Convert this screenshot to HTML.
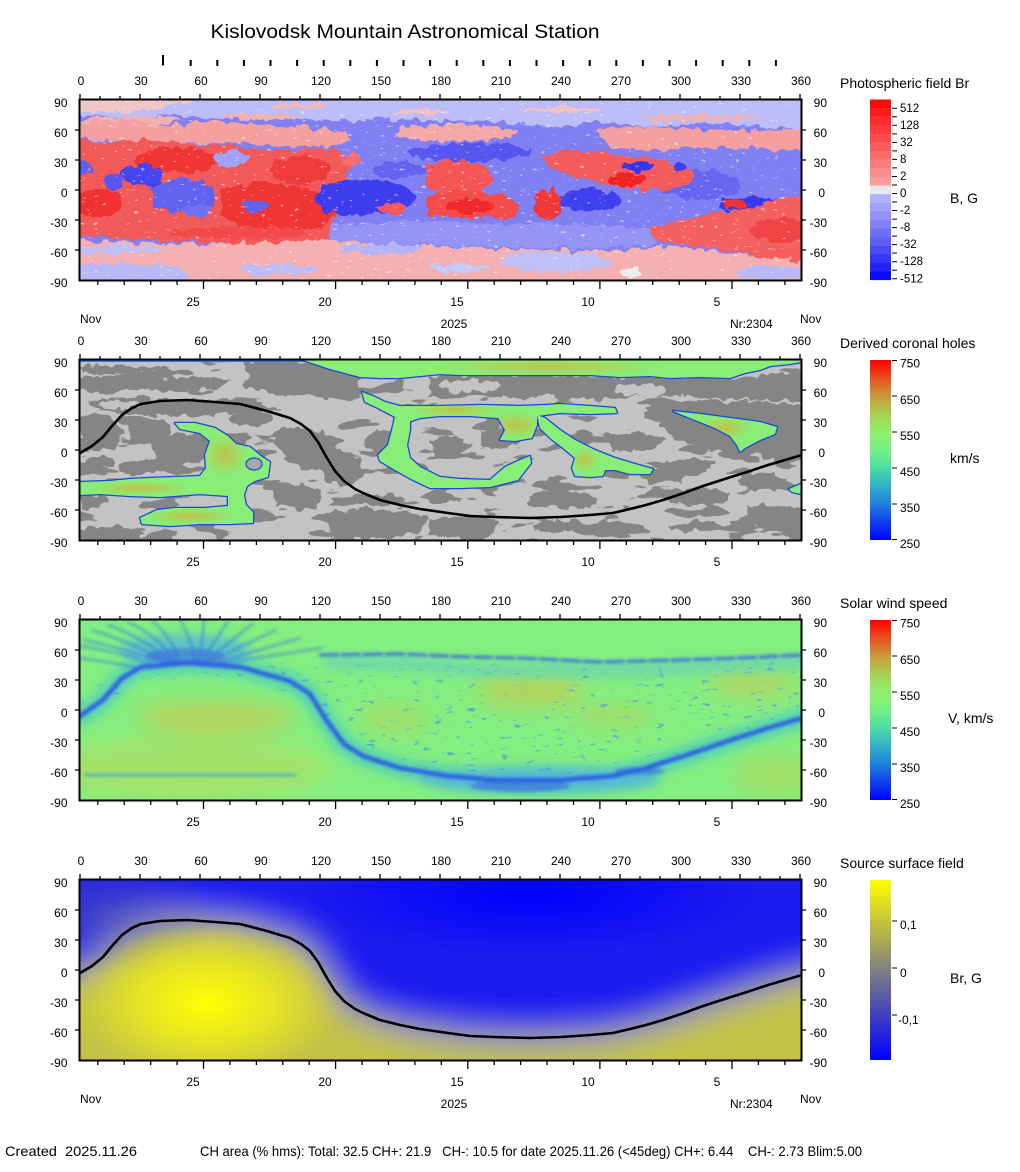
<!DOCTYPE html>
<html><head><meta charset="utf-8"><style>
html,body{margin:0;padding:0;background:#fff;width:1020px;height:1172px;overflow:hidden}
svg{display:block}
text{font-family:"Liberation Sans",Arial,sans-serif;fill:#000}
</style></head><body>
<svg width="1020" height="1172" viewBox="0 0 1020 1172" xmlns="http://www.w3.org/2000/svg">
<defs>
<filter id="rag" filterUnits="userSpaceOnUse" x="0" y="0" width="1020" height="1172">
<feTurbulence type="fractalNoise" baseFrequency="0.1" numOctaves="2" seed="7" result="n"/>
<feDisplacementMap in="SourceGraphic" in2="n" scale="11" xChannelSelector="R" yChannelSelector="G"/>
</filter>
<filter id="tex2" color-interpolation-filters="sRGB" filterUnits="userSpaceOnUse" x="80" y="360" width="721" height="180">
<feTurbulence type="fractalNoise" baseFrequency="0.022 0.065" numOctaves="3" seed="11"/>
<feColorMatrix type="matrix" values="0 0 0 0 0.52 0 0 0 0 0.52 0 0 0 0 0.52 1 0 0 0 0"/>
<feComponentTransfer><feFuncA type="linear" slope="40" intercept="-23.4"/></feComponentTransfer>
</filter>
<filter id="spk1" color-interpolation-filters="sRGB" filterUnits="userSpaceOnUse" x="80" y="100" width="721" height="180">
<feTurbulence type="fractalNoise" baseFrequency="0.15 0.35" numOctaves="2" seed="21"/>
<feColorMatrix type="matrix" values="0 0 0 0 0.96 0 0 0 0 0.96 0 0 0 0 0.96 1 0 0 0 0"/>
<feComponentTransfer><feFuncA type="linear" slope="12" intercept="-8.4"/></feComponentTransfer>
</filter>
<filter id="spk3" color-interpolation-filters="sRGB" filterUnits="userSpaceOnUse" x="80" y="620" width="721" height="180">
<feTurbulence type="fractalNoise" baseFrequency="0.09 0.25" numOctaves="2" seed="4"/>
<feColorMatrix type="matrix" values="0 0 0 0 0.3 0 0 0 0 0.6 0 0 0 0 0.88 1 0 0 0 0"/>
<feComponentTransfer><feFuncA type="linear" slope="8" intercept="-5.3"/></feComponentTransfer>
</filter>
<filter id="bl2" filterUnits="userSpaceOnUse" x="0" y="0" width="1020" height="1172"><feGaussianBlur stdDeviation="1.6"/></filter>
<filter id="bl5" filterUnits="userSpaceOnUse" x="0" y="0" width="1020" height="1172"><feGaussianBlur stdDeviation="5"/></filter>
<filter id="bl10" filterUnits="userSpaceOnUse" x="0" y="0" width="1020" height="1172"><feGaussianBlur stdDeviation="10"/></filter>
<filter id="bl18" filterUnits="userSpaceOnUse" x="0" y="820" width="1020" height="300"><feGaussianBlur stdDeviation="17"/></filter>
<clipPath id="c1"><rect x="80" y="100" width="721" height="180"/></clipPath>
<clipPath id="c2"><rect x="80" y="360" width="721" height="180"/></clipPath>
<clipPath id="c3"><rect x="80" y="620" width="721" height="180"/></clipPath>
<clipPath id="c4"><rect x="80" y="880" width="721" height="180"/></clipPath>
<linearGradient id="cb2" x1="0" y1="0" x2="0" y2="1">
<stop offset="0" stop-color="#ff0000"/><stop offset="0.1" stop-color="#e8501e"/><stop offset="0.2" stop-color="#c99a3c"/><stop offset="0.3" stop-color="#a8d050"/><stop offset="0.4" stop-color="#8ef06c"/><stop offset="0.5" stop-color="#74f084"/><stop offset="0.6" stop-color="#4cdca4"/><stop offset="0.7" stop-color="#30b0c8"/><stop offset="0.8" stop-color="#1e80dc"/><stop offset="0.9" stop-color="#0e40ee"/><stop offset="1" stop-color="#0000ff"/>
</linearGradient>
<linearGradient id="cb4" x1="0" y1="0" x2="0" y2="1"><stop offset="0" stop-color="#ffff00"/><stop offset="0.5" stop-color="#808080"/><stop offset="1" stop-color="#0000ff"/></linearGradient>
<radialGradient id="ys"><stop offset="0" stop-color="#ffff00" stop-opacity="1"/><stop offset="0.5" stop-color="#f2f018" stop-opacity="0.75"/><stop offset="1" stop-color="#e8e820" stop-opacity="0"/></radialGradient>
<radialGradient id="bs"><stop offset="0" stop-color="#0000ff" stop-opacity="1"/><stop offset="0.6" stop-color="#0808f8" stop-opacity="0.6"/><stop offset="1" stop-color="#0808f8" stop-opacity="0"/></radialGradient>
<radialGradient id="gl"><stop offset="0" stop-color="#6060a8" stop-opacity="0.55"/><stop offset="1" stop-color="#6060a8" stop-opacity="0"/></radialGradient>
<radialGradient id="och"><stop offset="0" stop-color="#c4c048" stop-opacity="0.95"/><stop offset="1" stop-color="#c4c048" stop-opacity="0"/></radialGradient>
<polyline id="nl" points="80,93 92,86 103,77 112,66 122,55 132,48 141,44 160,41 187,40 215,42 240,44 267,51 290,58 301,64 310,71 318,82 327,98 335,111 344,121 355,129 363,133 380,140 400,145 420,149 448,153 470,156 495,157 530,158 561,157 590,155 613,153 630,149 646,145 663,140 684,133 703,126 731,117 747,112 768,105 785,100 802,95"/>
<polygon id="np" points="40,95 80,93 92,86 103,77 112,66 122,55 132,48 141,44 160,41 187,40 215,42 240,44 267,51 290,58 301,64 310,71 318,82 327,98 335,111 344,121 355,129 363,133 380,140 400,145 420,149 448,153 470,156 495,157 530,158 561,157 590,155 613,153 630,149 646,145 663,140 684,133 703,126 731,117 747,112 768,105 785,100 802,95 840,88 840,-40 40,-40"/>
<g id="chs">
<polygon points="300,359 801,359 801,362 790,364 770,366 760,370 745,373 730,378 700,377 670,378 650,376 620,377 590,375 560,375 500,375 460,375 440,374 420,376 400,378 380,378 360,377 345,373 330,369 315,364 306,361"/>
<polygon points="80,482 110,481 130,479 150,478 175,477 200,476 206,468 205,455 210,441 200,433 180,429 175,423 195,423 215,428 228,436 236,444 250,447 256,452 262,457 270,462 268,477 255,481 247,486 244,495 246,505 253,512 253,523 230,524 200,524 170,526 142,524 140,518 157,510 175,508 205,508 228,506 228,496 200,494 160,497 130,496 100,494 80,495"/>
<polygon points="362,392 375,397 385,402 400,406 440,406 480,405 520,406 545,405 560,404 590,406 615,408 617,413 590,414 560,413 537,416 520,416 497,418 470,416 440,416 420,418 408,422 395,417 378,408 365,402"/>
<polygon points="395,417 410,420 410,430 407,445 410,458 420,467 440,477 460,479 490,480 505,467 520,460 530,456 531,463 518,480 490,487 460,488 430,488 413,480 395,470 380,461 378,455 388,445 392,430"/>
<polygon points="497,416 537,415 537,425 532,438 515,441 500,440 505,430"/>
<polygon points="537,415 545,418 560,430 575,440 595,450 615,458 635,464 653,469 650,474 630,474 615,470 605,470 603,476 590,477 575,476 572,468 575,458 563,448 550,438 540,428"/>
<polygon points="673,411 700,414 730,418 760,422 777,427 775,434 760,440 745,448 740,452 737,445 730,436 715,428 695,420 680,414"/>
<polygon points="789,489 801,484 801,494 792,492"/>
</g>
<mask id="chm" maskUnits="userSpaceOnUse" x="0" y="0" width="1020" height="1172"><use href="#chs" fill="#fff"/></mask>
<mask id="m3" maskUnits="userSpaceOnUse" x="0" y="0" width="1020" height="1172">
<g filter="url(#bl5)">
<polygon fill="#fff" points="300,665 400,662 480,668 560,668 640,668 720,664 801,660 801,722 768,732 731,744 684,760 646,772 613,780 561,784 495,784 448,780 400,772 363,760 344,748 327,725 310,700"/>
<polygon fill="#fff" points="80,700 120,668 160,652 240,652 300,668 322,700 300,702 260,682 200,676 150,682 110,705 80,728"/>
<ellipse cx="530" cy="690" rx="45" ry="14" fill="#000"/>
<ellipse cx="612" cy="716" rx="35" ry="8" fill="#000"/>
<ellipse cx="752" cy="683" rx="40" ry="11" fill="#000"/>
<ellipse cx="395" cy="718" rx="28" ry="10" fill="#000"/>
</g>
</mask>
<path id="tt" d="M80,0v-5M100,0v-3M120,0v-3M140,0v-5M160,0v-3M180,0v-3M200,0v-5M220,0v-3M240,0v-3M260,0v-5M280,0v-3M300,0v-3M320,0v-5M340,0v-3M360,0v-3M380,0v-5M400,0v-3M420,0v-3M440,0v-5M460,0v-3M480,0v-3M500,0v-5M520,0v-3M540,0v-3M560,0v-5M580,0v-3M600,0v-3M620,0v-5M640,0v-3M660,0v-3M680,0v-5M700,0v-3M720,0v-3M740,0v-5M760,0v-3M780,0v-3M800,0v-5"/>
<path id="bt" d="M97.8,0v4M124.2,0v4M150.7,0v4M177.1,0v4M203.5,0v8M229.9,0v4M256.4,0v4M282.8,0v4M309.2,0v4M335.6,0v8M362.1,0v4M388.5,0v4M414.9,0v4M441.3,0v4M467.8,0v8M494.2,0v4M520.6,0v4M547,0v4M573.5,0v4M599.9,0v8M626.3,0v4M652.7,0v4M679.2,0v4M705.6,0v4M732,0v8M758.4,0v4M784.9,0v4"/>
<path id="st" d="M75,30h4M75,60h4M75,90h4M75,120h4M75,150h4M802,30h4M802,60h4M802,90h4M802,120h4M802,150h4"/>
</defs>
<rect width="1020" height="1172" fill="#fff"/>

<!-- Title -->
<text x="405" y="38" font-size="19" text-anchor="middle" textLength="389" lengthAdjust="spacingAndGlyphs">Kislovodsk Mountain Astronomical Station</text>
<g stroke="#000" stroke-width="2">
<line x1="163" y1="55" x2="163" y2="65.5"/>
<path d="M190.7,60v6M217.3,60v6M243.9,60v6M270.5,60v6M297.1,60v6M323.7,60v6M350.3,60v6M376.9,60v6M403.5,60v6M430.1,60v6M456.7,60v6M483.3,60v6M509.9,60v6M536.5,60v6M563.1,60v6M589.7,60v6M616.3,60v6M642.9,60v6M669.5,60v6M696.1,60v6M722.7,60v6M749.3,60v6M775.9,60v6"/>
</g>

<!-- PANEL 1 -->
<g clip-path="url(#c1)">
<g filter="url(#rag)">
<rect x="60" y="85" width="760" height="210" fill="#8080f2"/>
<path fill="#bcbcf8" d="M60,85 H820 V130 L760,127 700,123 640,126 600,122 560,127 500,122 440,121 380,119 330,121 280,117 230,119 180,115 130,117 60,113 Z"/>
<path fill="#f2c6c6" d="M60,85 H200 L192,100 175,106 150,110 120,112 90,111 60,110 Z"/>
<ellipse cx="130" cy="120" rx="50" ry="4" fill="#f2b0b0"/>
<ellipse cx="260" cy="117" rx="40" ry="3" fill="#f2b0b0"/>
<ellipse cx="300" cy="106" rx="30" ry="3" fill="#f2b8b8"/>
<ellipse cx="700" cy="118" rx="60" ry="3" fill="#f2b0b0"/>
<ellipse cx="560" cy="110" rx="40" ry="2.5" fill="#f2c0c0"/>
<ellipse cx="420" cy="112" rx="30" ry="2.5" fill="#f2c0c0"/>
<path fill="#f4a0a0" d="M60,124 L120,119 170,125 220,121 270,125 320,129 345,133 352,141 330,147 290,146 240,144 180,143 120,141 60,139 Z"/>
<ellipse cx="455" cy="133" rx="62" ry="8" fill="#f4a8a8"/>
<path fill="#f4a0a0" d="M595,129 L650,126 700,129 760,131 820,128 V152 L760,149 700,147 650,151 610,146 Z"/>
<path fill="#f25a5a" d="M60,140 L110,142 150,140 190,144 230,146 260,150 290,150 320,148 345,152 352,165 345,180 350,195 340,210 330,222 345,232 325,240 290,242 250,244 200,242 150,240 110,238 60,236 Z"/>
<ellipse cx="178" cy="160" rx="42" ry="13" fill="#f03434"/>
<ellipse cx="98" cy="203" rx="25" ry="14" fill="#f03030"/>
<path fill="#f03434" d="M220,190 L260,182 300,186 332,196 334,215 320,228 280,232 240,228 222,215 Z"/>
<ellipse cx="300" cy="170" rx="30" ry="14" fill="#f03a3a"/>
<ellipse cx="240" cy="233" rx="70" ry="6" fill="#f24a4a"/>
<ellipse cx="84" cy="168" rx="8" ry="6" fill="#6060f0"/>
<ellipse cx="142" cy="175" rx="22" ry="11" fill="#4444f0"/>
<path fill="#6262f0" d="M150,186 L175,178 200,180 216,190 212,205 195,214 170,212 155,205 Z"/>
<ellipse cx="113" cy="182" rx="9" ry="8" fill="#5858f0"/>
<ellipse cx="196" cy="211" rx="16" ry="6" fill="#7070f0"/>
<ellipse cx="256" cy="206" rx="14" ry="6" fill="#6464f0"/>
<ellipse cx="230" cy="158" rx="18" ry="8" fill="#a0a0f4"/>
<ellipse cx="365" cy="198" rx="50" ry="18" fill="#3c3cee"/>
<ellipse cx="470" cy="152" rx="62" ry="9" fill="#5656f0"/>
<ellipse cx="590" cy="200" rx="32" ry="11" fill="#4040ee"/>
<ellipse cx="700" cy="185" rx="40" ry="15" fill="#6666f0"/>
<ellipse cx="400" cy="170" rx="25" ry="8" fill="#6464f0"/>
<path fill="#f45454" d="M425,165 L450,159 485,164 493,180 480,193 450,195 427,188 Z"/>
<path fill="#f44c4c" d="M425,195 L460,191 500,195 521,205 511,218 470,219 430,215 Z"/>
<ellipse cx="470" cy="206" rx="25" ry="7" fill="#f02c2c"/>
<ellipse cx="390" cy="208" rx="14" ry="6" fill="#f45858"/>
<ellipse cx="548" cy="205" rx="14" ry="15" fill="#f03838"/>
<ellipse cx="352" cy="160" rx="10" ry="5" fill="#f47070"/>
<path fill="#f45c5c" d="M540,155 L570,150 600,152 630,157 660,160 690,168 693,182 670,190 640,189 615,187 590,180 570,175 550,168 Z"/>
<ellipse cx="628" cy="180" rx="20" ry="7" fill="#f02424"/>
<ellipse cx="638" cy="166" rx="18" ry="5" fill="#3636f0"/>
<ellipse cx="680" cy="167" rx="8" ry="4" fill="#4040f0"/>
<ellipse cx="752" cy="205" rx="36" ry="8" fill="#3838f0"/>
<path fill="#f46060" d="M650,226 L700,216 740,210 770,201 820,190 V264 L760,258 720,250 680,244 650,240 640,232 Z"/>
<ellipse cx="780" cy="230" rx="30" ry="12" fill="#f04444"/>
<ellipse cx="735" cy="204" rx="11" ry="5" fill="#f03030"/>
<path fill="#9494f4" d="M330,226 L400,221 500,223 600,225 650,229 655,245 600,249 500,247 400,245 330,243 Z"/>
<path fill="#f4b0b0" d="M60,240 L200,244 330,240 420,247 520,249 600,251 680,246 760,258 820,262 V295 H60 Z"/>
<path fill="#b8b8f8" d="M70,266 L120,262 160,264 186,270 190,290 70,290 Z"/>
<ellipse cx="280" cy="270" rx="38" ry="6" fill="#bcbcf8"/>
<ellipse cx="555" cy="262" rx="55" ry="10" fill="#c0c0f6"/>
<ellipse cx="772" cy="273" rx="35" ry="7" fill="#b8b8f8"/>
<ellipse cx="630" cy="273" rx="10" ry="5" fill="#eeeeee"/>
<ellipse cx="380" cy="249" rx="40" ry="5" fill="#b4b4f6"/>
<ellipse cx="120" cy="250" rx="45" ry="4" fill="#c0c0f6"/>
<ellipse cx="460" cy="268" rx="30" ry="4" fill="#c8c8f6"/>
</g>
<rect x="80" y="100" width="721" height="180" filter="url(#spk1)" opacity="0.6"/>
</g>

<!-- PANEL 2 -->
<g clip-path="url(#c2)">
<rect x="80" y="360" width="721" height="180" fill="#c3c3c3"/>
<rect x="80" y="360" width="721" height="180" filter="url(#tex2)"/>
<g fill="#858585" filter="url(#rag)">
<path d="M80,366 L130,365 170,368 150,373 100,374 80,373 Z"/>
<path d="M80,377 L120,375 160,378 200,376 232,380 215,389 180,391 140,389 100,393 80,391 Z"/>
<path d="M240,362 L300,362 340,365 362,375 356,390 330,398 300,396 270,393 245,386 250,375 Z"/>
<path d="M100,399 L140,397 180,401 220,399 260,403 282,410 250,416 210,413 170,416 130,413 100,411 Z"/>
<path d="M80,418 L100,416 118,420 122,435 115,448 95,451 80,449 Z"/>
<path d="M127,420 L150,418 172,424 168,438 150,444 130,441 Z"/>
<path d="M153,440 L180,433 205,436 210,450 200,463 175,466 155,458 Z"/>
<path d="M273,430 L300,427 322,432 332,446 322,468 302,471 286,456 276,444 Z"/>
<path d="M318,452 L340,448 360,458 363,476 350,486 330,483 320,470 Z"/>
<path d="M80,496 L105,494 110,503 95,509 80,508 Z"/>
<path d="M273,485 L300,483 322,490 320,505 300,511 278,506 Z"/>
<path d="M327,512 L360,508 400,512 428,518 420,533 390,539 350,537 330,528 Z"/>
<path d="M80,528 L110,526 143,530 140,542 80,542 Z"/>
<ellipse cx="140" cy="468" rx="22" ry="7"/>
<ellipse cx="100" cy="462" rx="15" ry="6"/>
<path d="M430,376 L500,374 560,376 620,378 680,376 740,378 805,372 805,402 760,400 700,398 650,395 600,400 560,396 520,398 480,395 440,398 430,397 Z"/>
<path d="M430,440 L455,435 470,445 460,456 435,456 Z"/>
<path d="M480,430 L510,428 520,440 505,449 485,446 Z"/>
<path d="M657,405 L700,400 760,402 805,405 805,460 780,463 760,456 740,451 700,449 680,441 660,426 Z"/>
<path d="M630,470 L660,466 690,470 680,481 650,483 Z"/>
<path d="M430,518 L470,515 497,520 490,536 450,538 430,534 Z"/>
<path d="M530,493 L570,490 597,496 590,508 555,509 530,504 Z"/>
<path d="M663,490 L700,488 730,492 725,504 690,506 665,501 Z"/>
<path d="M747,507 L780,505 805,508 805,531 770,533 750,523 Z"/>
<path d="M600,436 L640,432 665,440 650,451 615,451 Z"/>
<ellipse cx="380" cy="500" rx="25" ry="6"/>
<ellipse cx="560" cy="526" rx="28" ry="6"/>
<ellipse cx="700" cy="526" rx="30" ry="5"/>
<ellipse cx="690" cy="465" rx="25" ry="6"/>
<ellipse cx="762" cy="482" rx="25" ry="7"/>
<ellipse cx="250" cy="420" rx="22" ry="6"/>
<ellipse cx="380" cy="440" rx="15" ry="10"/>
<ellipse cx="470" cy="386" rx="30" ry="6" fill="#c3c3c3"/>
<ellipse cx="640" cy="390" rx="25" ry="6" fill="#c3c3c3"/>
<ellipse cx="120" cy="405" rx="20" ry="4" fill="#c3c3c3"/>
<ellipse cx="560" cy="470" rx="25" ry="5" fill="#c3c3c3"/>
<ellipse cx="470" cy="505" rx="30" ry="5" fill="#c3c3c3"/>
</g>
<line x1="80" y1="361.2" x2="305" y2="361.2" stroke="#2a6ad8" stroke-width="1.4"/>
<use href="#chs" fill="none" stroke="#1c46d6" stroke-width="2.6" stroke-linejoin="round"/>
<use href="#chs" fill="#88ee78"/>
<g mask="url(#chm)" fill="url(#och)">
<ellipse cx="225" cy="455" rx="22" ry="22"/>
<ellipse cx="515" cy="425" rx="30" ry="14"/>
<ellipse cx="455" cy="410" rx="45" ry="7"/>
<ellipse cx="585" cy="460" rx="14" ry="12"/>
<ellipse cx="725" cy="428" rx="28" ry="12"/>
<ellipse cx="190" cy="516" rx="45" ry="8"/>
<ellipse cx="140" cy="488" rx="50" ry="7"/>
<ellipse cx="550" cy="367" rx="120" ry="8"/>
</g>
<ellipse cx="254" cy="464" rx="8" ry="6" fill="#a8a8a8" stroke="#1c46d6" stroke-width="1.2"/>
<use href="#nl" y="360" fill="none" stroke="#000" stroke-width="2.6" stroke-linejoin="round"/>
</g>

<!-- PANEL 3 -->
<g clip-path="url(#c3)">
<rect x="80" y="620" width="721" height="180" fill="#84ee80"/>
<g filter="url(#bl10)">
<ellipse cx="190" cy="768" rx="140" ry="32" fill="#a2e26a"/>
<ellipse cx="215" cy="717" rx="80" ry="16" fill="#b6d45c"/>
<ellipse cx="530" cy="690" rx="55" ry="17" fill="#b4d45c"/>
<ellipse cx="612" cy="716" rx="40" ry="9" fill="#acd862"/>
<ellipse cx="752" cy="683" rx="45" ry="13" fill="#b0d660"/>
<ellipse cx="395" cy="718" rx="34" ry="12" fill="#a6dc66"/>
<ellipse cx="775" cy="775" rx="40" ry="20" fill="#a2e068"/>
<ellipse cx="120" cy="640" rx="40" ry="15" fill="#7cf088"/>
</g>
<g filter="url(#bl5)" fill="none" stroke-linecap="round" stroke-linejoin="round">
<polyline points="80,716 103,700 122,678 141,667 187,663 240,667 290,681 310,694 327,721 344,744 363,756 400,768 448,776 495,780 561,780 613,776 646,768 684,756 731,740 768,728 802,718" stroke="#5ad4b0" stroke-width="20"/>
<ellipse cx="185" cy="650" rx="65" ry="16" fill="#5cc4c4" stroke="none"/>
<ellipse cx="540" cy="780" rx="120" ry="14" fill="#54bcd0" stroke="none"/>
<polyline points="330,662 400,664 480,670 560,670 640,670 720,666 801,662" stroke="#70d8a8" stroke-width="14"/>
</g>
<rect x="80" y="620" width="721" height="180" filter="url(#spk3)" mask="url(#m3)" opacity="0.7"/>
<g filter="url(#bl2)" fill="none" stroke-linecap="round" stroke-linejoin="round">
<polyline points="80,716 103,700 122,678 141,667 187,663 240,667 290,681 310,694 327,721 344,744 363,756 400,768 448,776 495,780 561,780 613,776 646,768 684,756 731,740 768,728 802,718" stroke="#2a5ce6" stroke-width="4.5"/>
<ellipse cx="185" cy="656" rx="40" ry="8" fill="#3058e2" stroke="none" opacity="0.45"/>
<path d="M168,663Q120,648 84,640M170,663Q130,642 92,630M173,662Q140,636 108,625M176,662Q155,634 128,622M180,662Q170,634 152,621M196,662Q190,636 180,620M199,662Q203,636 204,620M202,662Q218,636 228,621M205,663Q232,640 252,624M208,663Q246,644 276,630M211,664Q260,650 300,638M214,664Q270,656 322,648M80,646Q120,652 150,663M80,658Q110,662 140,668" stroke="#3462e6" stroke-width="2" opacity="0.6"/>
<polyline points="320,655 400,654 470,657 520,658 600,662 680,660 740,658 801,655" stroke="#2e62e6" stroke-width="2.6" stroke-dasharray="18 4"/>
<line x1="85" y1="775" x2="295" y2="775" stroke="#3aa0e4" stroke-width="2"/>
<ellipse cx="520" cy="786" rx="50" ry="6" fill="#2e60e2" stroke="none" opacity="0.55"/>
<ellipse cx="640" cy="771" rx="25" ry="4" fill="#2e60e2" stroke="none" opacity="0.55"/>
</g>
</g>

<!-- PANEL 4 -->
<g clip-path="url(#c4)">
<g filter="url(#bl18)">
<rect x="40" y="840" width="800" height="260" fill="#c2c246"/>
<use href="#np" y="880" fill="#1a1aee"/>
</g>
<ellipse cx="110" cy="915" rx="110" ry="60" fill="url(#gl)"/>
<ellipse cx="207" cy="1003" rx="135" ry="80" fill="url(#ys)"/>
<ellipse cx="530" cy="895" rx="230" ry="60" fill="url(#bs)"/>
<use href="#nl" y="880" fill="none" stroke="#000" stroke-width="2.6" stroke-linejoin="round"/>
</g>

<!-- Frames and ticks -->
<g fill="none" stroke="#000">
<rect x="79.5" y="99.5" width="722" height="181" stroke-width="2"/>
<rect x="79.5" y="359.5" width="722" height="181" stroke-width="2"/>
<rect x="79.5" y="619.5" width="722" height="181" stroke-width="2"/>
<rect x="79.5" y="879.5" width="722" height="181" stroke-width="2"/>
<g stroke-width="1.3">
<use href="#tt" y="99"/><use href="#tt" y="359"/><use href="#tt" y="619"/><use href="#tt" y="879"/>
<use href="#bt" y="281"/><use href="#bt" y="541"/><use href="#bt" y="801"/><use href="#bt" y="1061"/>
<use href="#st" y="100"/><use href="#st" y="360"/><use href="#st" y="620"/><use href="#st" y="880"/>
</g>
</g>

<!-- Axis labels -->
<g font-size="12" text-anchor="middle">
<text x="81" y="85">0</text><text x="141" y="85">30</text><text x="201" y="85">60</text><text x="261" y="85">90</text><text x="321" y="85">120</text><text x="381" y="85">150</text><text x="441" y="85">180</text><text x="501" y="85">210</text><text x="561" y="85">240</text><text x="621" y="85">270</text><text x="681" y="85">300</text><text x="741" y="85">330</text><text x="801" y="85">360</text>
<text x="81" y="345">0</text><text x="141" y="345">30</text><text x="201" y="345">60</text><text x="261" y="345">90</text><text x="321" y="345">120</text><text x="381" y="345">150</text><text x="441" y="345">180</text><text x="501" y="345">210</text><text x="561" y="345">240</text><text x="621" y="345">270</text><text x="681" y="345">300</text><text x="741" y="345">330</text><text x="801" y="345">360</text>
<text x="81" y="605">0</text><text x="141" y="605">30</text><text x="201" y="605">60</text><text x="261" y="605">90</text><text x="321" y="605">120</text><text x="381" y="605">150</text><text x="441" y="605">180</text><text x="501" y="605">210</text><text x="561" y="605">240</text><text x="621" y="605">270</text><text x="681" y="605">300</text><text x="741" y="605">330</text><text x="801" y="605">360</text>
<text x="81" y="865">0</text><text x="141" y="865">30</text><text x="201" y="865">60</text><text x="261" y="865">90</text><text x="321" y="865">120</text><text x="381" y="865">150</text><text x="441" y="865">180</text><text x="501" y="865">210</text><text x="561" y="865">240</text><text x="621" y="865">270</text><text x="681" y="865">300</text><text x="741" y="865">330</text><text x="801" y="865">360</text>
<text x="193" y="306">25</text><text x="325" y="306">20</text><text x="457" y="306">15</text><text x="588" y="306">10</text><text x="717" y="306">5</text>
<text x="193" y="566">25</text><text x="325" y="566">20</text><text x="457" y="566">15</text><text x="588" y="566">10</text><text x="717" y="566">5</text>
<text x="193" y="826">25</text><text x="325" y="826">20</text><text x="457" y="826">15</text><text x="588" y="826">10</text><text x="717" y="826">5</text>
<text x="193" y="1086">25</text><text x="325" y="1086">20</text><text x="457" y="1086">15</text><text x="588" y="1086">10</text><text x="717" y="1086">5</text>
<text x="454" y="328">2025</text>
<text x="454" y="1108">2025</text>
</g>
<g font-size="12" text-anchor="end">
<text x="67.5" y="107">90</text><text x="67.5" y="137">60</text><text x="67.5" y="167">30</text><text x="67.5" y="197">0</text><text x="67.5" y="227">-30</text><text x="67.5" y="257">-60</text><text x="67.5" y="287">-90</text>
<text x="67.5" y="367">90</text><text x="67.5" y="397">60</text><text x="67.5" y="427">30</text><text x="67.5" y="457">0</text><text x="67.5" y="487">-30</text><text x="67.5" y="517">-60</text><text x="67.5" y="547">-90</text>
<text x="67.5" y="627">90</text><text x="67.5" y="657">60</text><text x="67.5" y="687">30</text><text x="67.5" y="717">0</text><text x="67.5" y="747">-30</text><text x="67.5" y="777">-60</text><text x="67.5" y="807">-90</text>
<text x="67.5" y="887">90</text><text x="67.5" y="917">60</text><text x="67.5" y="947">30</text><text x="67.5" y="977">0</text><text x="67.5" y="1007">-30</text><text x="67.5" y="1037">-60</text><text x="67.5" y="1067">-90</text>
<text x="827" y="107">90</text><text x="827" y="137">60</text><text x="827" y="167">30</text><text x="825" y="197">0</text><text x="827" y="227">-30</text><text x="827" y="257">-60</text><text x="827" y="287">-90</text>
<text x="827" y="367">90</text><text x="827" y="397">60</text><text x="827" y="427">30</text><text x="825" y="457">0</text><text x="827" y="487">-30</text><text x="827" y="517">-60</text><text x="827" y="547">-90</text>
<text x="827" y="627">90</text><text x="827" y="657">60</text><text x="827" y="687">30</text><text x="825" y="717">0</text><text x="827" y="747">-30</text><text x="827" y="777">-60</text><text x="827" y="807">-90</text>
<text x="827" y="887">90</text><text x="827" y="917">60</text><text x="827" y="947">30</text><text x="825" y="977">0</text><text x="827" y="1007">-30</text><text x="827" y="1037">-60</text><text x="827" y="1067">-90</text>
</g>
<g font-size="12">
<text x="80" y="323">Nov</text><text x="800" y="323">Nov</text><text x="730" y="328">Nr:2304</text>
<text x="80" y="1103">Nov</text><text x="800" y="1103">Nov</text><text x="730" y="1108">Nr:2304</text>
</g>

<!-- Colorbar 1 -->
<g>
<rect x="870" y="99.5" width="21" height="8.8" fill="#fe0a0a"/>
<rect x="870" y="108.1" width="21" height="8.8" fill="#fd1c1c"/>
<rect x="870" y="116.7" width="21" height="8.8" fill="#fc2c2c"/>
<rect x="870" y="125.3" width="21" height="8.8" fill="#fb3c3c"/>
<rect x="870" y="133.9" width="21" height="8.8" fill="#fa4c4c"/>
<rect x="870" y="142.5" width="21" height="8.8" fill="#f95c5c"/>
<rect x="870" y="151.1" width="21" height="8.8" fill="#f96c6c"/>
<rect x="870" y="159.7" width="21" height="8.8" fill="#f97c7c"/>
<rect x="870" y="168.3" width="21" height="8.8" fill="#fa8c8c"/>
<rect x="870" y="176.9" width="21" height="8.8" fill="#fb9c9c"/>
<rect x="870" y="185.5" width="21" height="8.8" fill="#e8e8e8"/>
<rect x="870" y="194.1" width="21" height="8.8" fill="#b2b2fc"/>
<rect x="870" y="202.7" width="21" height="8.8" fill="#a2a2fa"/>
<rect x="870" y="211.3" width="21" height="8.8" fill="#9292f8"/>
<rect x="870" y="219.9" width="21" height="8.8" fill="#8282f6"/>
<rect x="870" y="228.5" width="21" height="8.8" fill="#7070f4"/>
<rect x="870" y="237.1" width="21" height="8.8" fill="#5e5ef4"/>
<rect x="870" y="245.7" width="21" height="8.8" fill="#4a4af4"/>
<rect x="870" y="254.3" width="21" height="8.8" fill="#3636f6"/>
<rect x="870" y="262.9" width="21" height="8.8" fill="#2222f8"/>
<rect x="870" y="271.5" width="21" height="8.6" fill="#0c0cfc"/>
</g>
<path d="M892,108.3h5M892,116.8h5M892,125.3h5M892,133.9h5M892,142.4h5M892,150.9h5M892,159.4h5M892,167.9h5M892,176.5h5M892,185h5M892,193.5h5M892,202h5M892,210.5h5M892,219.1h5M892,227.6h5M892,236.1h5M892,244.6h5M892,253.1h5M892,261.7h5M892,270.2h5M892,278.7h5" stroke="#000" stroke-width="1"/>
<g font-size="11.5">
<text x="900" y="112">512</text><text x="900" y="129">128</text><text x="900" y="146">32</text><text x="900" y="163">8</text><text x="900" y="180">2</text><text x="900" y="197">0</text><text x="900" y="214">-2</text><text x="900" y="231">-8</text><text x="900" y="248">-32</text><text x="900" y="265">-128</text><text x="900" y="282.5">-512</text>
</g>

<!-- Colorbars 2,3,4 -->
<rect x="870" y="360" width="21" height="180" fill="url(#cb2)"/>
<rect x="870" y="620" width="21" height="180" fill="url(#cb2)"/>
<rect x="870" y="880" width="21" height="180" fill="url(#cb4)"/>
<path d="M892,360.5h5M892,396h5M892,432h5M892,468h5M892,504h5M892,539.5h5M892,620.5h5M892,656h5M892,692h5M892,728h5M892,764h5M892,799.5h5M892,921h5M892,968h5M892,1015h5" stroke="#000" stroke-width="1"/>
<g font-size="12">
<text x="900" y="367.5">750</text><text x="900" y="404">650</text><text x="900" y="440">550</text><text x="900" y="476">450</text><text x="900" y="512">350</text><text x="900" y="548">250</text>
<text x="900" y="627.5">750</text><text x="900" y="664">650</text><text x="900" y="700">550</text><text x="900" y="736">450</text><text x="900" y="772">350</text><text x="900" y="808">250</text>
<text x="900" y="929">0,1</text><text x="900" y="977">0</text><text x="898" y="1024">-0,1</text>
</g>

<!-- Right titles -->
<g font-size="14">
<text x="840" y="88">Photospheric field Br</text>
<text x="840" y="348">Derived coronal holes</text>
<text x="840" y="608">Solar wind speed</text>
<text x="840" y="868">Source surface field</text>
<text x="950" y="203">B, G</text>
<text x="950" y="463">km/s</text>
<text x="948" y="723">V, km/s</text>
<text x="950" y="983">Br, G</text>
</g>

<!-- Footer -->
<text x="5" y="1156" font-size="14" textLength="132" lengthAdjust="spacingAndGlyphs">Created&#160; 2025.11.26</text>
<text x="200" y="1156" font-size="14" textLength="662" lengthAdjust="spacingAndGlyphs">CH area (% hms): Total: 32.5 CH+: 21.9&#160;&#160; CH-: 10.5 for date 2025.11.26 (&lt;45deg) CH+: 6.44&#160;&#160;&#160; CH-: 2.73 Blim:5.00</text>
</svg>
</body></html>
